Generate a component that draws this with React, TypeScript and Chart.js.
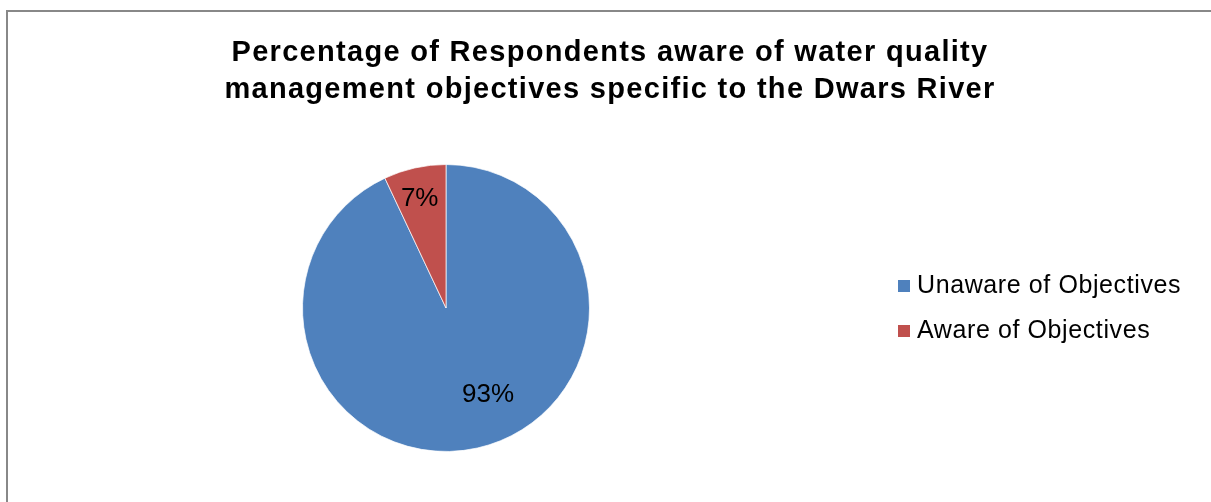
import React, { useEffect, useRef } from "react";
import { Chart, registerables } from "chart.js";

Chart.register(...registerables);

const TITLE_LINES = [
  "Percentage of Respondents aware of water quality",
  "management objectives specific to the Dwars River",
];
const CATEGORIES = ["Unaware of Objectives", "Aware of Objectives"];
const VALUES = [93, 7];
const VALUE_LABELS = ["93%", "7%"];
const COLORS = ["#4F81BD", "#C0504D"];
// placement of each value label inside its slice (fraction of angle span, fraction of radius)
const LABEL_ANGLE_FRAC = [0.46, 0.46];
const LABEL_RADIUS_FRAC = [0.67, 0.78];

const FONT = '"Liberation Sans", Arial, sans-serif';

const overlayPlugin = {
  id: "overlay",
  afterDraw(chart: any) {
    const ctx = chart.ctx as CanvasRenderingContext2D;
    ctx.save();
    // Title
    ctx.fillStyle = "#000000";
    ctx.textAlign = "center";
    ctx.textBaseline = "alphabetic";
    ctx.font = `bold 29px ${FONT}`;
    (ctx as any).letterSpacing = "1.3px";
    const titleX = 610;
    TITLE_LINES.forEach((line, i) => {
      ctx.fillText(line, titleX, 61 + i * 37);
    });

    // Value labels inside slices
    const meta = chart.getDatasetMeta(0);
    ctx.font = `26px ${FONT}`;
    (ctx as any).letterSpacing = "0px";
    ctx.textBaseline = "middle";
    meta.data.forEach((arc: any, i: number) => {
      const p = arc.getProps(["x", "y", "startAngle", "endAngle", "outerRadius"], true);
      const a = p.startAngle + (p.endAngle - p.startAngle) * LABEL_ANGLE_FRAC[i];
      const r = p.outerRadius * LABEL_RADIUS_FRAC[i];
      ctx.fillText(VALUE_LABELS[i], p.x + Math.cos(a) * r, p.y + Math.sin(a) * r);
    });

    // Legend
    const labels = chart.data.labels as string[];
    const colors = chart.data.datasets[0].backgroundColor as string[];
    ctx.font = `25px ${FONT}`;
    (ctx as any).letterSpacing = "0.6px";
    ctx.textAlign = "left";
    labels.forEach((lab, i) => {
      const cy = 286 + i * 45;
      ctx.fillStyle = colors[i];
      ctx.fillRect(898, cy - 6, 12, 12);
      ctx.fillStyle = "#000000";
      ctx.fillText(lab, 917, cy);
    });
    ctx.restore();
  },
};

export default function App() {
  const ref = useRef<HTMLCanvasElement | null>(null);
  useEffect(() => {
    if (!ref.current) return;
    const chart = new Chart(ref.current, {
      type: "pie",
      data: {
        labels: CATEGORIES,
        datasets: [
          {
            data: VALUES,
            backgroundColor: COLORS,
            borderColor: "rgba(255,255,255,0.7)",
            borderWidth: 1,
          },
        ],
      },
      options: {
        responsive: false,
        animation: false,
        layout: { padding: { left: 302, right: 621, top: 164, bottom: 50 } },
        plugins: {
          legend: { display: false },
          title: { display: false },
          tooltip: { enabled: false },
        },
      },
      plugins: [overlayPlugin],
    });
    return () => chart.destroy();
  }, []);

  return (
    <div
      style={{
        position: "fixed",
        left: 0,
        top: 0,
        width: 1211,
        height: 502,
        overflow: "hidden",
        background: "#ffffff",
      }}
    >
      <div
        style={{
          position: "absolute",
          left: 6,
          top: 10,
          width: 1400,
          height: 700,
          border: "2px solid #888888",
          boxSizing: "border-box",
        }}
      />
      <canvas
        ref={ref}
        width={1211}
        height={502}
        style={{ position: "absolute", left: 0, top: 0, width: 1211, height: 502 }}
      />
    </div>
  );
}
